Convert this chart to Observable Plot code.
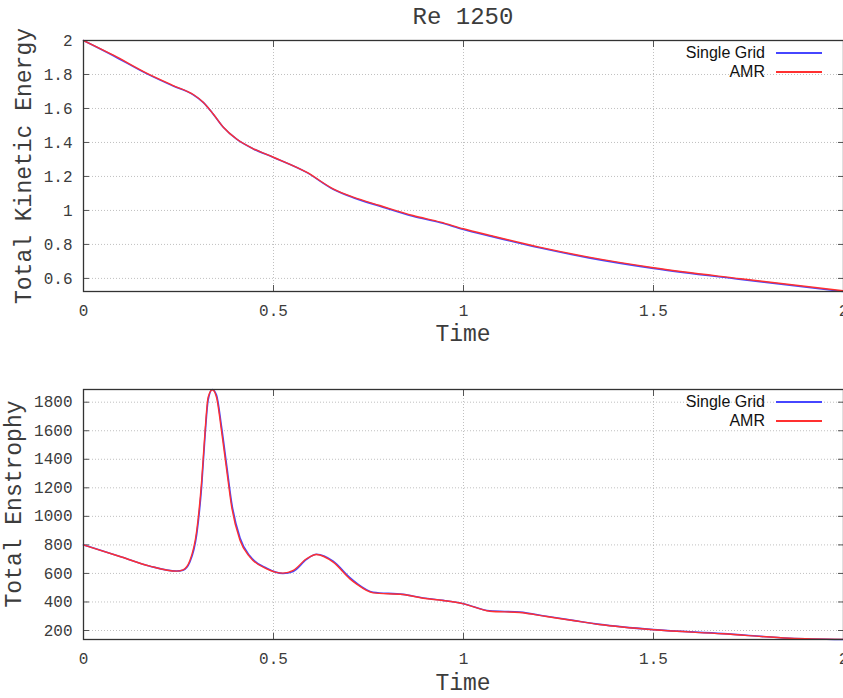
<!DOCTYPE html>
<html>
<head>
<meta charset="utf-8">
<script src="https://cdn.jsdelivr.net/npm/d3@7"></script>
<script src="https://cdn.jsdelivr.net/npm/@observablehq/plot@0.6"></script>
<style>
  body { margin: 0; background: #fff; width: 843px; height: 698px; overflow: hidden; position: relative; }
  .abs { position: absolute; white-space: nowrap; }
  .mono { font-family: "Liberation Mono", "DejaVu Sans Mono", monospace; color: #3c3c3c; }
  .title { left: 83px; width: 760px; top: 4px; text-align: center; font-size: 24px; line-height: 28px; }
  .xlab { left: 83px; width: 760px; text-align: center; font-size: 23px; line-height: 26px; }
  .ylab { font-size: 23px; line-height: 26px; transform: translate(-50%, -50%) rotate(-90deg); }
  .leg { font-family: "Liberation Sans", Arial, sans-serif; font-size: 16px; color: #111; }
  .legtext { text-align: right; width: 200px; line-height: 18px; }
  .plotbox { position: absolute; left: 0; width: 843px; }
</style>
</head>
<body>
<div class="abs mono title">Re 1250</div>
<div class="plotbox" id="p1" style="top:30px"></div>
<div class="plotbox" id="p2" style="top:350px"></div>
<div class="abs mono xlab" style="top:322px">Time</div>
<div class="abs mono xlab" style="top:671px">Time</div>
<div class="abs mono ylab" style="left:25px; top:166px">Total Kinetic Energy</div>
<div class="abs mono ylab" style="left:15px; top:504px">Total Enstrophy</div>
<div id="legends"></div>
<script>
// ---- data ----
const seriesNames = ["Single Grid", "AMR"];
const seriesColors = ["#4646ff", "#ff3030"];
const xTicks = [0, 0.5, 1, 1.5, 2];

// Total kinetic energy
const keTime   = [0, 0.08, 0.166, 0.236, 0.289, 0.315, 0.341, 0.368, 0.403, 0.447, 0.5, 0.587, 0.657, 0.71, 0.78, 0.867, 0.94, 1.0, 1.07, 1.2, 1.33, 1.5, 1.73, 2.0];
const keSingle = [2.0, 1.909, 1.805, 1.732, 1.680, 1.636, 1.568, 1.489, 1.419, 1.362, 1.312, 1.224, 1.125, 1.075, 1.025, 0.966, 0.927, 0.888, 0.849, 0.780, 0.721, 0.659, 0.594, 0.523];
const keAMR    = [2.0, 1.912, 1.808, 1.735, 1.682, 1.637, 1.569, 1.490, 1.420, 1.363, 1.313, 1.225, 1.127, 1.078, 1.029, 0.970, 0.931, 0.892, 0.853, 0.784, 0.725, 0.663, 0.598, 0.527];
const keTicks  = [0.6, 0.8, 1, 1.2, 1.4, 1.6, 1.8, 2];

// Total enstrophy
const enTime   = [0, 0.1, 0.175, 0.245, 0.262, 0.28, 0.298, 0.311, 0.32, 0.328, 0.339, 0.35, 0.363, 0.377, 0.39, 0.412, 0.438, 0.482, 0.525, 0.552, 0.587, 0.613, 0.657, 0.701, 0.718, 0.762, 0.841, 0.894, 0.946, 1.0, 1.069, 1.148, 1.218, 1.288, 1.358, 1.5, 1.683, 1.858, 2.0];
const enSingle = [800, 715, 651, 617, 623, 680, 875, 1215, 1572, 1815, 1889, 1850, 1632, 1352, 1093, 848, 722, 636, 600, 614, 698, 734, 686, 570, 533, 468, 453, 428, 411, 388, 338, 329, 300, 271, 243, 206, 178, 146, 137];
const enAMR    = [800, 715, 651, 616, 625, 690, 901, 1251, 1602, 1835, 1887, 1835, 1602, 1321, 1064, 831, 714, 632, 602, 621, 703, 733, 679, 562, 527, 464, 452, 426, 410, 387, 335, 326, 298, 270, 242, 205, 177, 146, 138];
const enTicks  = [200, 400, 600, 800, 1000, 1200, 1400, 1600, 1800];

function fmt(d) { return String(+d.toFixed(1)); }

function makePlot(time, single, amr, yTicks, height, marginTop) {
  const dSingle = time.map((t, i) => ({t, v: single[i]}));
  const dAMR = time.map((t, i) => ({t, v: amr[i]}));
  const grid = {stroke: "#b0b0b0", strokeOpacity: 1, strokeWidth: 0.8, strokeDasharray: "1,2"};
  return Plot.plot({
    width: 843, height, marginLeft: 83, marginRight: 0, marginTop, marginBottom: 59,
    x: {domain: [0, 2]},
    y: {domain: d3.extent(single.concat(amr))},
    style: {fontFamily: "'Liberation Mono', 'DejaVu Sans Mono', monospace", fontSize: "16px", color: "#3c3c3c", overflow: "visible"},
    marks: [
      Plot.gridX(xTicks, grid),
      Plot.gridY(yTicks, grid),
      Plot.axisX(xTicks, {anchor: "bottom", tickSize: -6, tickPadding: 19, tickFormat: fmt, label: null, stroke: "#555"}),
      Plot.axisX(xTicks, {anchor: "top", tickSize: -6, tickFormat: () => "", label: null, stroke: "#555"}),
      Plot.axisY(yTicks, {anchor: "left", tickSize: -6, tickPadding: 17, tickFormat: fmt, label: null, stroke: "#555"}),
      Plot.axisY(yTicks, {anchor: "right", tickSize: -6, tickFormat: () => "", label: null, stroke: "#555"}),
      Plot.line(dSingle, {x: "t", y: "v", stroke: seriesColors[0], strokeWidth: 1.6, curve: "monotone-x"}),
      Plot.line(dAMR, {x: "t", y: "v", stroke: seriesColors[1], strokeWidth: 1.4, curve: "monotone-x"}),
      Plot.frame({stroke: "#333", strokeWidth: 1.3})
    ]
  });
}

document.getElementById("p1").append(makePlot(keTime, keSingle, keAMR, keTicks, 320, 10));
document.getElementById("p2").append(makePlot(enTime, enSingle, enAMR, enTicks, 348, 39));

// legends
const legendTops = [53, 402];
const leg = document.getElementById("legends");
legendTops.forEach(top => {
  seriesNames.forEach((name, i) => {
    const cy = top + i * 19;
    const t = document.createElement("div");
    t.className = "abs leg legtext";
    t.style.left = "565px";
    t.style.top = (cy - 9) + "px";
    t.textContent = name;
    leg.append(t);
    const ln = document.createElement("div");
    ln.className = "abs";
    ln.style.left = "776px";
    ln.style.width = "46px";
    ln.style.top = (cy - 1) + "px";
    ln.style.height = "1.5px";
    ln.style.background = seriesColors[i];
    leg.append(ln);
  });
});
</script>
</body>
</html>
